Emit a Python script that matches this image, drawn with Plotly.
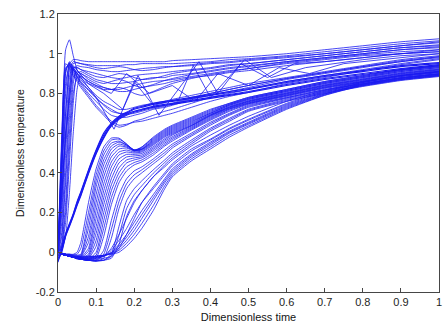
import plotly.graph_objects as go

# common time grid (dimensionless time)
T = [0, .01, .02, .03, .04, .05, .06, .08, .10, .12, .14, .16, .18, .20, .22,
     .25, .28, .30, .35, .40, .45, .50, .60, .70, .80, .90, 1.0]

# early-rising curves that stay high
UPPER = [
    [0, .55, 1.02, 1.07, .99, .92, .89, .86, .84, .83, .82, .81, .81, .82, .83, .84, .85, .86, .88, .89, .905, .915, .94, .96, .98, 1.0, 1.01],
    [0, .35, .80, .95, .97, .97, .965, .96, .96, .96, .96, .96, .96, .96, .96, .96, .96, .965, .97, .975, .98, .985, 1.0, 1.02, 1.04, 1.06, 1.075],
    [0, .25, .70, .92, .96, .955, .95, .94, .93, .925, .93, .935, .93, .92, .915, .92, .93, .935, .945, .955, .96, .97, .985, 1.0, 1.02, 1.04, 1.06],
    [0, .20, .60, .88, .95, .955, .95, .945, .94, .94, .94, .94, .945, .945, .95, .95, .95, .95, .955, .96, .97, .975, .99, 1.01, 1.03, 1.05, 1.065],
    [0, .15, .50, .82, .93, .93, .92, .90, .885, .88, .89, .90, .895, .88, .87, .875, .89, .90, .915, .925, .94, .95, .97, .99, 1.01, 1.03, 1.04],
    [0, .10, .40, .75, .92, .94, .935, .93, .92, .915, .91, .91, .915, .92, .925, .93, .935, .935, .94, .95, .955, .965, .98, 1.0, 1.02, 1.04, 1.055],
    [0, .08, .35, .68, .88, .91, .90, .88, .86, .85, .86, .87, .86, .84, .83, .845, .865, .875, .895, .91, .925, .935, .96, .98, 1.0, 1.02, 1.03],
    [0, .05, .25, .60, .85, .93, .92, .91, .90, .89, .88, .875, .88, .89, .895, .90, .905, .91, .92, .93, .945, .95, .97, .99, 1.01, 1.03, 1.045],
    [0, .04, .20, .52, .80, .88, .885, .86, .84, .82, .82, .83, .82, .80, .79, .81, .835, .85, .875, .895, .91, .925, .955, .975, .995, 1.01, 1.02],
    [0, .03, .15, .45, .75, .90, .91, .89, .87, .86, .85, .85, .855, .86, .87, .88, .88, .89, .90, .915, .93, .94, .96, .98, 1.0, 1.02, 1.035],
    [0, .02, .08, .30, .60, .82, .90, .87, .85, .83, .82, .82, .83, .84, .85, .86, .865, .87, .885, .90, .915, .925, .95, .97, .99, 1.0, 1.01],
]

# early-rising curves that sag before recovering
DESC = [
    [0, .45, .90, .96, .93, .90, .87, .83, .79, .76, .74, .72, .72, .73, .74, .75, .76, .77, .79, .81, .83, .85, .88, .91, .94, .97, .99],
    [0, .48, .91, .955, .92, .885, .855, .815, .775, .745, .72, .70, .695, .70, .71, .725, .735, .745, .775, .80, .82, .84, .875, .905, .935, .965, .985],
    [0, .50, .92, .95, .91, .88, .85, .80, .76, .72, .69, .68, .68, .69, .70, .72, .73, .74, .77, .79, .81, .83, .87, .90, .93, .96, .98],
    [0, .55, .93, .94, .90, .87, .84, .79, .74, .70, .66, .64, .645, .655, .66, .675, .69, .70, .73, .76, .785, .805, .85, .88, .915, .945, .97],
    [0, .60, .95, .93, .89, .86, .83, .78, .73, .69, .65, .63, .64, .66, .67, .69, .71, .72, .75, .78, .80, .82, .86, .89, .92, .95, .975],
    [0, .40, .85, .94, .92, .89, .86, .82, .78, .74, .71, .70, .70, .71, .72, .73, .74, .75, .78, .80, .82, .84, .875, .905, .935, .96, .985],
]

# zig-zag curves (own time points)
ZIG_X = [
    [0, .012, .03, .06, .10, .147, .21, .265, .37, .42, .48, .55, .62, .70, .80, .90, 1.0],
    [0, .015, .035, .07, .12, .17, .20, .25, .317, .355, .40, .49, .56, .65, .80, .90, 1.0],
    [0, .02, .04, .08, .14, .18, .24, .30, .36, .42, .50, .58, .66, .75, .85, 1.0],
]
ZIG_Y = [
    [0, .50, .95, .88, .78, .62, .89, .69, .96, .80, .95, .88, .95, .96, .98, 1.0, 1.02],
    [0, .45, .93, .86, .80, .72, .86, .74, .77, .94, .78, .97, .88, .93, .97, .99, 1.0],
    [0, .60, .94, .85, .80, .90, .80, .84, .76, .90, .84, .93, .90, .95, .97, 1.0],
]

# thick bundle rising straight from the origin
BUNDLE = [
    [-.05, .02, .09, .14, .19, .25, .30, .41, .51, .59, .645, .68, .70, .72, .73, .745, .755, .76, .775, .79, .805, .82, .855, .885, .91, .935, .95],
    [-.03, .01, .085, .135, .185, .24, .29, .40, .50, .58, .64, .675, .695, .71, .72, .735, .745, .75, .765, .78, .795, .81, .845, .875, .90, .925, .945],
    [-.04, .0, .08, .13, .18, .235, .285, .395, .495, .575, .635, .67, .69, .705, .715, .73, .74, .745, .76, .775, .79, .805, .84, .87, .895, .92, .94],
    [-.02, .03, .095, .145, .195, .255, .305, .415, .515, .60, .65, .685, .705, .725, .735, .75, .76, .765, .78, .795, .81, .825, .86, .89, .915, .94, .955],
]

# fan of delayed curves with a hump
FAN = [
    [0, -.01, -.01, -.01, -.01, 0, .05, .25, .42, .53, .575, .575, .545, .51, .53, .58, .62, .64, .68, .72, .75, .78, .82, .86, .89, .92, .94],
    [0, -.01, -.01, -.01, -.012, -.01, .02, .20, .39, .51, .565, .57, .545, .515, .53, .575, .615, .635, .675, .715, .75, .78, .82, .86, .89, .92, .94],
    [0, -.01, -.01, -.01, -.015, -.015, -.01, .16, .36, .49, .55, .56, .54, .515, .525, .57, .61, .63, .67, .71, .745, .775, .815, .855, .885, .915, .935],
    [0, -.01, -.012, -.015, -.018, -.018, -.015, .12, .33, .465, .535, .555, .54, .515, .52, .565, .605, .625, .665, .705, .745, .775, .815, .855, .885, .915, .935],
    [0, -.01, -.015, -.02, -.02, -.02, -.02, .08, .29, .44, .52, .545, .535, .515, .52, .56, .60, .62, .66, .70, .74, .77, .81, .85, .88, .91, .93],
    [0, -.01, -.015, -.02, -.022, -.022, -.022, .05, .25, .41, .50, .535, .53, .512, .518, .555, .595, .615, .655, .70, .74, .77, .81, .85, .88, .91, .93],
    [0, -.01, -.015, -.02, -.025, -.025, -.025, .02, .21, .38, .48, .52, .525, .51, .515, .55, .59, .61, .65, .695, .735, .765, .805, .845, .875, .905, .925],
    [0, -.01, -.015, -.02, -.025, -.028, -.028, .005, .17, .345, .455, .505, .515, .505, .51, .545, .585, .605, .645, .692, .732, .762, .802, .842, .872, .902, .922],
    [0, -.01, -.015, -.02, -.025, -.03, -.03, -.01, .13, .31, .43, .49, .505, .50, .505, .54, .58, .60, .64, .69, .73, .76, .80, .84, .87, .90, .92],
    [0, -.01, -.015, -.02, -.025, -.03, -.03, -.018, .095, .275, .40, .47, .493, .493, .498, .532, .572, .595, .638, .688, .728, .758, .798, .838, .868, .898, .918],
    [0, -.01, -.015, -.02, -.025, -.03, -.03, -.025, .06, .24, .37, .45, .48, .485, .49, .525, .565, .59, .635, .685, .725, .755, .795, .835, .865, .895, .915],
    [0, -.01, -.015, -.02, -.025, -.03, -.032, -.03, .03, .20, .34, .425, .465, .475, .482, .518, .558, .582, .63, .68, .722, .752, .792, .832, .862, .892, .912],
    [0, -.01, -.015, -.02, -.025, -.03, -.035, -.035, .0, .16, .31, .40, .45, .465, .475, .51, .55, .575, .625, .675, .72, .75, .79, .83, .86, .89, .91],
    [0, -.01, -.015, -.02, -.025, -.03, -.035, -.038, -.015, .12, .275, .375, .43, .452, .465, .50, .542, .568, .62, .67, .715, .748, .788, .828, .858, .888, .908],
    [0, -.01, -.015, -.02, -.025, -.03, -.035, -.04, -.03, .08, .24, .35, .41, .44, .455, .49, .535, .56, .615, .665, .71, .745, .785, .825, .855, .885, .905],
    [0, -.01, -.015, -.02, -.025, -.03, -.035, -.04, -.04, .01, .16, .29, .37, .41, .43, .47, .515, .545, .60, .655, .70, .74, .78, .82, .85, .88, .90],
    [0, -.01, -.015, -.02, -.025, -.03, -.035, -.04, -.042, -.01, .115, .255, .345, .39, .415, .458, .502, .535, .592, .648, .695, .735, .778, .818, .848, .878, .898],
    [0, -.01, -.015, -.02, -.025, -.03, -.035, -.04, -.045, -.03, .07, .22, .32, .37, .40, .445, .49, .525, .585, .64, .69, .73, .775, .815, .845, .875, .895],
    [0, -.01, -.015, -.02, -.025, -.03, -.035, -.04, -.045, -.04, -.01, .13, .26, .32, .36, .415, .465, .50, .565, .625, .675, .72, .77, .81, .84, .87, .89],
    [0, -.01, -.015, -.02, -.025, -.03, -.035, -.04, -.042, -.04, -.02, .085, .22, .29, .335, .398, .452, .488, .555, .618, .668, .715, .765, .805, .838, .868, .888],
    [0, -.01, -.015, -.02, -.025, -.03, -.035, -.04, -.04, -.04, -.03, .04, .18, .26, .31, .38, .44, .475, .545, .61, .66, .71, .76, .80, .835, .865, .885],
]

# late-rising bundle (lower edge)
LATE = [
    [0, -.005, -.01, -.015, -.02, -.035, -.035, -.035, -.035, -.03, -.02, .02, .09, .17, .25, .33, .40, .445, .52, .57, .625, .67, .75, .81, .855, .89, .91],
    [0, -.005, -.01, -.015, -.02, -.025, -.03, -.035, -.03, -.02, .02, .09, .17, .25, .31, .38, .43, .465, .535, .59, .64, .685, .76, .815, .86, .89, .91],
    [0, -.005, -.01, -.015, -.02, -.025, -.03, -.03, -.03, -.02, .01, .06, .12, .19, .25, .32, .39, .435, .51, .565, .62, .665, .745, .805, .855, .885, .905],
    [0, -.005, -.01, -.015, -.02, -.025, -.03, -.03, -.025, -.02, 0, .04, .09, .15, .21, .29, .37, .42, .495, .555, .61, .655, .74, .80, .85, .88, .90],
    [0, -.005, -.01, -.015, -.02, -.028, -.028, -.028, -.025, -.018, -.002, .03, .075, .13, .19, .275, .36, .41, .488, .548, .605, .65, .735, .797, .847, .877, .897],
    [0, -.005, -.01, -.015, -.02, -.025, -.025, -.025, -.02, -.015, -.005, .02, .06, .11, .17, .26, .35, .40, .48, .54, .60, .645, .73, .795, .845, .875, .895],
    [0, -.005, -.01, -.015, -.02, -.022, -.022, -.022, -.02, -.015, -.008, .01, .045, .09, .145, .235, .335, .39, .47, .53, .59, .637, .725, .792, .842, .872, .892],
    [0, -.005, -.01, -.015, -.02, -.02, -.02, -.02, -.02, -.015, -.01, 0, .03, .07, .12, .21, .32, .38, .46, .52, .58, .63, .72, .79, .84, .87, .89],
]

X_TICKS = [0, .1, .2, .3, .4, .5, .6, .7, .8, .9, 1]
X_TICK_TEXT = ["0", "0.1", "0.2", "0.3", "0.4", "0.5", "0.6", "0.7", "0.8", "0.9", "1"]
Y_TICKS = [-.2, 0, .2, .4, .6, .8, 1, 1.2]
Y_TICK_TEXT = ["-0.2", "0", "0.2", "0.4", "0.6", "0.8", "1", "1.2"]

BLUE = "rgb(25,25,240)"
fig = go.Figure()

def add(xs, ys, shape="spline", width=0.8):
    fig.add_trace(go.Scatter(x=xs, y=ys, mode="lines", showlegend=False,
                             hoverinfo="skip",
                             line=dict(color=BLUE, width=width, shape=shape,
                                       smoothing=0.5 if shape == "spline" else None)))

for group in (UPPER, DESC, FAN, LATE):
    for ys in group:
        add(T, ys)
for ys in BUNDLE:
    add(T, ys, width=1.1)
for xs, ys in zip(ZIG_X, ZIG_Y):
    add(xs, ys, "linear")

axis_common = dict(showline=True, linecolor="rgb(70,70,70)", linewidth=1,
                   mirror=True, ticks="inside", ticklen=4,
                   tickcolor="rgb(70,70,70)", showgrid=False, zeroline=False,
                   tickfont=dict(family="Liberation Sans, Arial", size=11,
                                 color="rgb(30,30,30)"))

fig.update_layout(
    width=446, height=328,
    margin=dict(l=58, r=4, t=14, b=36),
    paper_bgcolor="white", plot_bgcolor="white",
    xaxis=dict(range=[0, 1], tickvals=X_TICKS, ticktext=X_TICK_TEXT,
               title=dict(text="Dimensionless time", standoff=6,
                          font=dict(family="Liberation Sans, Arial", size=11,
                                    color="rgb(20,20,20)")),
               **axis_common),
    yaxis=dict(range=[-0.2, 1.2], tickvals=Y_TICKS, ticktext=Y_TICK_TEXT,
               title=dict(text="Dimensionless temperature", standoff=9,
                          font=dict(family="Liberation Sans, Arial", size=10.5,
                                    color="rgb(20,20,20)")),
               **axis_common),
)

fig.write_html("out.html")
